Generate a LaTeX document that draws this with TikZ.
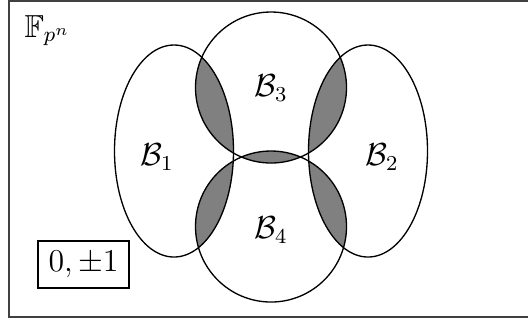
\documentclass[tikz,border=0pt,12pt]{standalone}
\usepackage{amssymb}
\begin{document}
\begin{tikzpicture}[x=0.013245cm,y=-0.013245cm,
  setline/.style={draw=black,line width=0.5pt},
  lab/.style={inner sep=0pt},
  shade/.style={fill=gray}]
\useasboundingbox (0,0) rectangle (528,320);
\clip (0,0) rectangle (528,320);
% centres
\coordinate (c1) at (174,151);
\coordinate (c2) at (368,151);
\coordinate (c3) at (271,87.5);
\coordinate (c4) at (271,226.5);
% shaded regions
\begin{scope}
  \clip (c3) circle (75.5);
  \fill[shade,even odd rule] (c1) ellipse (59.5 and 106) (c2) ellipse (59.5 and 106) (c4) circle (75.5);
\end{scope}
\begin{scope}
  \clip (c4) circle (75.5);
  \fill[shade,even odd rule] (c1) ellipse (59.5 and 106) (c2) ellipse (59.5 and 106) (c3) circle (75.5);
\end{scope}
% outlines
\draw[setline] (c1) ellipse (59.5 and 106);
\draw[setline] (c2) ellipse (59.5 and 106);
\draw[setline] (c3) circle (75.5);
\draw[setline] (c4) circle (75.5);
% frame
\draw[draw=black!75,line width=0.6pt] (9,1) rectangle (540,317);
% labels
\node[lab] (b1) at (157,157) {$\mathcal{B}_1$};
\node[lab] (b2) at (382,157) {$\mathcal{B}_2$};
\node[lab] (b3) at (271,88) {$\mathcal{B}_3$};
\node[lab] (b4) at (271,230) {$\mathcal{B}_4$};
\node[lab,anchor=base west] (f) at (24,37) {$\mathbb{F}_{p^n}$};
\node[draw,line width=0.5pt,minimum width=1.205cm,minimum height=0.62cm,inner sep=0pt] (z) at (83.5,264.5) {$0, \pm 1$};
\end{tikzpicture}
\end{document}
